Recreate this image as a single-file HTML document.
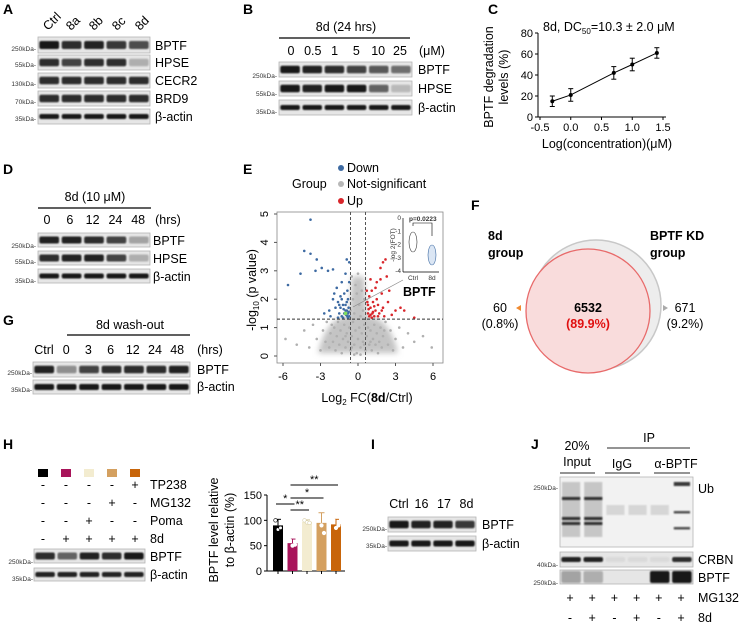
<!DOCTYPE html>
<html><head><meta charset="utf-8">
<style>
html,body{margin:0;padding:0;background:#fff;}
svg{display:block;font-family:"Liberation Sans",Arial,sans-serif;}
.pl{font-weight:bold;font-size:14px;}
.lb{font-size:12.5px;}
.kd{font-size:6.5px;fill:#333;}
.tk{font-size:11px;}
</style></head>
<body>
<svg id="fig" width="743" height="628" viewBox="0 0 743 628" xmlns="http://www.w3.org/2000/svg">
<defs><filter id="bl" x="-20%" y="-60%" width="140%" height="220%"><feGaussianBlur stdDeviation="0.9"/></filter>
<filter id="bl3" x="-20%" y="-20%" width="140%" height="140%"><feGaussianBlur stdDeviation="3"/></filter></defs>
<g id="root"></g>
</svg>
<script>
// ---------- data ----------
const cConc = [-0.3, 0.0, 0.7, 1.0, 1.4];
const cDeg = [15, 21, 42, 50, 61];
const cErr = [5, 6, 6, 6, 5];
const cXTicks = [-0.5, 0.0, 0.5, 1.0, 1.5];
const cYTicks = [0, 20, 40, 60, 80];

const volDown = [[-3.8,4.8],[-4.3,3.7],[-3.8,3.6],[-3.3,3.4],[-5.6,2.5],[-4.6,2.9],[-3.4,3.0],[-2.9,3.1],[-2.4,3.0],[-2.0,3.05],[-0.9,3.4],[-0.7,3.3],[-1.0,2.9],[-1.3,2.6],[-1.7,2.4],[-2.7,1.5],[-2.3,1.6],[-2.2,1.4],[-1.6,1.9],[-1.4,2.1],[-1.2,1.8],[-1.0,1.6],[-0.8,1.5],[-0.9,1.9],[-1.1,2.2],[-1.5,1.5],[-1.3,1.4],[-0.75,1.7],[-0.85,2.3],[-1.8,1.7],[-1.2,1.35],[-0.95,1.45],[-0.7,1.4],[-1.6,1.35],[-2.0,2.0],[-1.4,1.7],[-0.8,2.0],[-1.1,1.5],[-0.7,2.6],[-1.9,2.2],[-0.8,1.35],[-1.0,1.8],[-1.3,2.0],[-0.9,1.6],[-1.5,1.8],[-0.75,1.55],[-1.15,1.65],[-0.85,1.4]];
const volUp = [[1.8,3.1],[2.2,3.4],[2.0,3.3],[1.8,2.7],[1.0,2.7],[1.5,2.6],[2.3,2.8],[0.7,2.3],[1.1,2.3],[1.9,2.2],[2.4,1.9],[3.0,1.6],[3.4,1.7],[3.7,1.6],[4.5,1.35],[2.7,1.45],[0.8,1.5],[1.0,1.7],[1.2,1.9],[1.4,1.6],[1.6,1.8],[0.9,1.4],[1.3,1.4],[1.7,1.5],[0.75,1.9],[1.1,1.35],[1.5,2.0],[1.9,1.6],[2.1,1.4],[0.8,1.8],[1.2,1.55],[2.5,2.3],[1.4,2.4],[0.9,2.1],[1.0,1.45],[1.3,1.75],[1.6,1.4],[0.85,1.65],[1.15,1.5],[2.0,1.7]];
const volNS = [[-5.8,0.6],[-4.9,0.4],[-4.3,0.9],[-3.9,0.3],[-3.6,1.1],[-3.3,0.6],[-3.0,0.2],[-2.8,0.9],[-2.6,0.5],[-2.5,1.2],[-2.3,0.3],[-2.2,0.8],[-2.0,0.5],[-1.9,1.0],[-1.8,0.2],[-1.7,0.7],[-1.6,1.2],[-1.5,0.4],[-1.4,0.9],[-1.3,0.1],[-1.2,0.6],[-1.1,1.1],[-1.0,0.3],[-0.9,0.8],[-0.8,0.5],[-0.7,1.0],[-0.6,0.2],[-0.5,0.7],[-0.4,1.2],[-0.3,0.4],[-0.2,0.9],[-0.1,0.1],[0.0,0.6],[0.1,1.0],[0.2,0.3],[0.3,0.8],[0.4,0.5],[0.5,1.1],[0.6,0.2],[0.7,0.7],[0.8,1.0],[0.9,0.4],[1.0,0.9],[1.1,0.2],[1.2,0.6],[1.3,1.1],[1.4,0.4],[1.5,0.8],[1.6,0.1],[1.7,0.5],[1.8,1.0],[1.9,0.3],[2.0,0.7],[2.2,1.2],[2.4,0.4],[2.6,0.9],[2.8,0.2],[3.0,0.6],[3.3,1.0],[3.6,0.3],[4.0,0.8],[4.5,0.5],[5.2,0.7],[5.9,0.3],[-0.4,2.0],[-0.2,2.5],[0.1,1.8],[0.3,2.3],[-0.3,1.5],[0.4,1.6],[0.0,2.9],[-0.5,2.8],[0.2,1.4],[-0.1,2.2],[-0.6,1.6],[0.5,2.0],[-0.3,0.05],[0.2,0.05],[-2.1,1.1],[2.1,0.9],[-1.0,0.7],[1.0,0.5],[-0.5,0.3],[0.5,0.4]];
const volXTicks = [-6, -3, 0, 3, 6];
const volYTicks = [0, 1, 2, 3, 4, 5];

const hGroups = ['Ctrl','8d','8d+Poma','8d+MG132','8d+TP238'];
const hMeans = [90, 55, 97, 95, 92];
const hErrs = [12, 8, 4, 20, 10];
const hReps = [[100,82,85],[60,50,52],[100,96,95],[105,90,75],[100,85,90]];
const hYTicks = [0, 50, 100, 150];

// ---------- helpers ----------
const NS = 'http://www.w3.org/2000/svg';
const root = document.getElementById('root');
function mk(tag, attrs, parent, text) {
  const e = document.createElementNS(NS, tag);
  for (const k in attrs) e.setAttribute(k, attrs[k]);
  if (text !== undefined) e.textContent = text;
  (parent || root).appendChild(e);
  return e;
}
function grp(name) {
  const g = mk('g', {});
  
  
  return g;
}
function txt(p, x, y, s, cls, extra) {
  const a = Object.assign({x: x, y: y, class: cls || 'lb'}, extra || {});
  const t = mk('text', a, p, s);
  
  
  return t;
}
function blot(p, name, x, y, w, h, ints, bh) {
  const g = mk('g', {}, p);
  
  
  mk('rect', {x: x, y: y, width: w, height: h, fill: '#e6e6e6', stroke: '#b5b5b5', 'stroke-width': 0.8}, g);
  const lw = w / ints.length;
  ints.forEach(function (v, i) {
    const b = mk('rect', {x: x + i * lw + lw * 0.06, y: y + h / 2 - (bh || h * 0.5) / 2, width: lw * 0.88, height: bh || h * 0.5, rx: 2, fill: '#0a0a0a', opacity: v, filter: 'url(#bl)'}, g);
    
    
  });
  return g;
}
function kda(p, x, y, s) { txt(p, x, y, s + '-', 'kd', {'text-anchor': 'end'}); }

// ---------- Panel A ----------
(function () {
  const g = grp('panel-a');
  txt(g, 3, 14, 'A', 'pl');
  ['Ctrl', '8a', '8b', '8c', '8d'].forEach(function (s, i) {
    txt(g, 48 + i * 23, 31, s, 'lb', {transform: 'rotate(-45 ' + (48 + i * 23) + ' 31)'});
  });
  blot(g, 'blot-a-bptf', 38, 37, 112, 16, [0.95, 0.85, 0.9, 0.8, 0.7]);
  blot(g, 'blot-a-hpse', 38, 55, 112, 15, [0.85, 0.75, 0.85, 0.85, 0.25]);
  blot(g, 'blot-a-cecr2', 38, 73, 112, 15, [0.85, 0.85, 0.85, 0.85, 0.85]);
  blot(g, 'blot-a-brd9', 38, 91, 112, 15, [0.85, 0.85, 0.85, 0.85, 0.85]);
  blot(g, 'blot-a-actin', 38, 109, 112, 15, [0.95, 0.95, 0.95, 0.95, 0.95], 5);
  ['BPTF', 'HPSE', 'CECR2', 'BRD9', 'β-actin'].forEach(function (s, i) { txt(g, 155, [50, 67, 85, 103, 121][i], s); });
  kda(g, 36, 51, '250kDa'); kda(g, 36, 67, '55kDa'); kda(g, 36, 86, '130kDa'); kda(g, 36, 104, '70kDa'); kda(g, 36, 121, '35kDa');
})();

// ---------- Panel B ----------
(function () {
  const g = grp('panel-b');
  txt(g, 243, 14, 'B', 'pl');
  txt(g, 346, 31, '8d (24 hrs)', 'lb', {'text-anchor': 'middle'});
  mk('line', {x1: 279, y1: 38, x2: 410, y2: 38, stroke: '#000', 'stroke-width': 1.2}, g);
  ['0', '0.5', '1', '5', '10', '25'].forEach(function (s, i) { txt(g, 291 + i * 21.8, 55, s, 'lb', {'text-anchor': 'middle'}); });
  txt(g, 432, 55, '(μM)', 'lb', {'text-anchor': 'middle'});
  blot(g, 'blot-b-bptf', 279, 62, 133, 15, [0.95, 0.9, 0.85, 0.75, 0.65, 0.55]);
  blot(g, 'blot-b-hpse', 279, 81, 133, 15, [0.95, 0.9, 0.95, 0.95, 0.6, 0.2]);
  blot(g, 'blot-b-actin', 279, 100, 133, 15, [0.95, 0.95, 0.95, 0.95, 0.95, 0.95], 5);
  txt(g, 418, 74, 'BPTF'); txt(g, 418, 93, 'HPSE'); txt(g, 418, 112, 'β-actin');
  kda(g, 277, 78, '250kDa'); kda(g, 277, 96, '55kDa'); kda(g, 277, 114, '35kDa');
})();

// ---------- Panel C ----------
(function () {
  const g = grp('panel-c-chart');
  txt(g, 488, 14, 'C', 'pl');
  const X = function (v) { return 540 + (v + 0.5) * 61.5; };
  const Y = function (v) { return 117 - v * 1.05; };
  mk('line', {x1: 538, y1: Y(0), x2: 666, y2: Y(0), stroke: '#000'}, g);
  mk('line', {x1: 538, y1: Y(0), x2: 538, y2: Y(80), stroke: '#000'}, g);
  cXTicks.forEach(function (t) {
    mk('line', {x1: X(t), y1: Y(0), x2: X(t), y2: Y(0) + 3, stroke: '#000'}, g);
    txt(g, X(t), Y(0) + 14, t.toFixed(1), 'tk', {'text-anchor': 'middle'});
  });
  cYTicks.forEach(function (t) {
    mk('line', {x1: 535, y1: Y(t), x2: 538, y2: Y(t), stroke: '#000'}, g);
    txt(g, 533, Y(t) + 4, String(t), 'tk', {'text-anchor': 'end'});
  });
  let d = '';
  cConc.forEach(function (c, i) { d += (i ? 'L' : 'M') + X(c) + ' ' + Y(cDeg[i]); });
  const line = mk('path', {d: d, fill: 'none', stroke: '#000', 'stroke-width': 1}, g);
  
  cConc.forEach(function (c, i) {
    const e = mk('line', {x1: X(c), y1: Y(cDeg[i] - cErr[i]), x2: X(c), y2: Y(cDeg[i] + cErr[i]), stroke: '#000'}, g);
    
    mk('line', {x1: X(c) - 2.5, y1: Y(cDeg[i] - cErr[i]), x2: X(c) + 2.5, y2: Y(cDeg[i] - cErr[i]), stroke: '#000'}, g);
    mk('line', {x1: X(c) - 2.5, y1: Y(cDeg[i] + cErr[i]), x2: X(c) + 2.5, y2: Y(cDeg[i] + cErr[i]), stroke: '#000'}, g);
    const p = mk('circle', {cx: X(c), cy: Y(cDeg[i]), r: 2, fill: '#000'}, g);
    
  });
  const t = mk('text', {x: 543, y: 31, class: 'lb'}, g);
  
  t.innerHTML = '8d, DC<tspan font-size="8" dy="3">50</tspan><tspan dy="-3">=10.3 ± 2.0 μM</tspan>';
  txt(g, 607, 148, 'Log(concentration)(μM)', 'lb', {'text-anchor': 'middle'});
  txt(g, 0, 0, 'BPTF degradation', 'lb', {'text-anchor': 'middle', transform: 'translate(493 77) rotate(-90)'});
  txt(g, 0, 0, 'levels (%)', 'lb', {'text-anchor': 'middle', transform: 'translate(508 77) rotate(-90)'});
})();

// ---------- Panel D ----------
(function () {
  const g = grp('panel-d');
  txt(g, 3, 174, 'D', 'pl');
  txt(g, 95, 201, '8d (10 μM)', 'lb', {'text-anchor': 'middle'});
  mk('line', {x1: 38, y1: 208, x2: 151, y2: 208, stroke: '#000', 'stroke-width': 1.2}, g);
  ['0', '6', '12', '24', '48'].forEach(function (s, i) { txt(g, 47 + i * 22.8, 224, s, 'lb', {'text-anchor': 'middle'}); });
  txt(g, 168, 224, '(hrs)', 'lb', {'text-anchor': 'middle'});
  blot(g, 'blot-d-bptf', 38, 233, 112, 14, [0.9, 0.9, 0.85, 0.75, 0.3]);
  blot(g, 'blot-d-hpse', 38, 251, 112, 14, [0.85, 0.9, 0.9, 0.75, 0.25]);
  blot(g, 'blot-d-actin', 38, 269, 112, 14, [0.95, 0.95, 0.95, 0.95, 0.95], 5);
  txt(g, 153, 245, 'BPTF'); txt(g, 153, 263, 'HPSE'); txt(g, 153, 281, 'β-actin');
  kda(g, 36, 248, '250kDa'); kda(g, 36, 264, '55kDa'); kda(g, 36, 283, '35kDa');
})();

// ---------- Panel E (volcano) ----------
(function () {
  const g = grp('panel-e-volcano');
  txt(g, 243, 174, 'E', 'pl');
  txt(g, 292, 188, 'Group', 'lb');
  [['Down', '#3d6aa2', 172], ['Not-significant', '#b8b8b8', 188], ['Up', '#d9262b', 205]].forEach(function (l) {
    const c = mk('circle', {cx: 341, cy: l[2] - 4, r: 3, fill: l[1]}, g);
    
    txt(g, 347, l[2], l[0]);
  });
  const X = function (v) { return 358 + v * 12.5; };
  const Y = function (v) { return 356 - v * 28.4; };
  const box = mk('rect', {x: 277, y: 212, width: 166, height: 151, fill: 'none', stroke: '#888', 'stroke-width': 0.8}, g);
  
  volXTicks.forEach(function (t) {
    mk('line', {x1: X(t), y1: 363, x2: X(t), y2: 366, stroke: '#555'}, g);
    txt(g, X(t), 380, String(t), 'tk', {'text-anchor': 'middle'});
  });
  volYTicks.forEach(function (t) {
    mk('line', {x1: 274, y1: Y(t), x2: 277, y2: Y(t), stroke: '#555'}, g);
    txt(g, 0, 0, String(t), 'tk', {'text-anchor': 'middle', transform: 'translate(268 ' + Y(t) + ') rotate(-90)'});
  });
  // density of non-significant proteins
  const dens = mk('path', {d: 'M' + X(-3.2) + ' ' + Y(0.1) + ' Q' + X(-2.5) + ' ' + Y(1.4) + ' ' + X(-0.7) + ' ' + Y(1.4) + ' L' + X(-0.5) + ' ' + Y(2.8) + ' L' + X(0.5) + ' ' + Y(2.8) + ' L' + X(0.7) + ' ' + Y(1.4) + ' Q' + X(2.5) + ' ' + Y(1.4) + ' ' + X(3.2) + ' ' + Y(0.1) + ' Z', fill: '#c4c4c4', filter: 'url(#bl3)'}, g);
  
  volNS.forEach(function (p) { const c = mk('circle', {cx: X(p[0]), cy: Y(p[1]), r: 1.3, fill: '#b0b0b0'}, g);  });
  volDown.forEach(function (p) { const c = mk('circle', {cx: X(p[0]), cy: Y(p[1]), r: 1.3, fill: '#3d6aa2'}, g);  });
  volUp.forEach(function (p) { const c = mk('circle', {cx: X(p[0]), cy: Y(p[1]), r: 1.3, fill: '#d9262b'}, g);  });
  const bp = mk('circle', {cx: X(-1.0), cy: Y(1.5), r: 1.8, fill: '#7ddc5a'}, g); 
  [X(-0.6), X(0.6)].forEach(function (lx) { mk('line', {x1: lx, y1: 212, x2: lx, y2: 363, stroke: '#555', 'stroke-dasharray': '3 2'}, g); });
  mk('line', {x1: 277, y1: Y(1.3), x2: 443, y2: Y(1.3), stroke: '#333', 'stroke-dasharray': '3 2'}, g);
  mk('line', {x1: 353, y1: 307, x2: 403, y2: 280, stroke: '#888', 'stroke-width': 0.7}, g);
  // inset
  mk('rect', {x: 403, y: 218, width: 36, height: 54, fill: '#fff'}, g);
  mk('line', {x1: 403, y1: 218, x2: 403, y2: 272, stroke: '#000', 'stroke-width': 0.7}, g);
  mk('line', {x1: 403, y1: 272, x2: 439, y2: 272, stroke: '#000', 'stroke-width': 0.7}, g);
  [0, -1, -2, -3, -4].forEach(function (t, i) { txt(g, 401, 220 + i * 13.3, String(t), 'kd', {'text-anchor': 'end', 'font-size': '6'}); });
  mk('ellipse', {cx: 413, cy: 242, rx: 4, ry: 10, fill: '#fff', stroke: '#333', 'stroke-width': 0.6}, g);
  mk('ellipse', {cx: 432, cy: 255, rx: 4, ry: 10, fill: '#dbe6f4', stroke: '#3d6aa2', 'stroke-width': 0.6}, g);
  mk('path', {d: 'M413 226 V223 H432 V236', fill: 'none', stroke: '#000', 'stroke-width': 0.6}, g);
  txt(g, 409, 221, 'p=0.0223', 'kd', {'font-weight': 'bold', 'font-size': '6.5'});
  txt(g, 0, 0, '-log 2(FOT)', 'kd', {'text-anchor': 'middle', transform: 'translate(395 245) rotate(-90)', 'font-size': '5.5'});
  txt(g, 413, 280, 'Ctrl', 'kd', {'text-anchor': 'middle', 'font-size': '7'});
  txt(g, 432, 280, '8d', 'kd', {'text-anchor': 'middle', 'font-size': '7'});
  txt(g, 403, 296, 'BPTF', 'lb', {'font-weight': 'bold', 'font-size': '16'});
  const xl = mk('text', {x: 367, y: 402, class: 'lb', 'text-anchor': 'middle'}, g);
  
  xl.innerHTML = 'Log<tspan font-size="8" dy="3">2</tspan><tspan dy="-3"> FC(</tspan><tspan font-weight="bold">8d</tspan>/Ctrl)';
  const yl = mk('text', {x: 0, y: 0, class: 'lb', 'text-anchor': 'middle', transform: 'translate(256 290) rotate(-90)'}, g);
  
  yl.innerHTML = '-log<tspan font-size="8" dy="3">10</tspan><tspan dy="-3"> (p value)</tspan>';
})();

// ---------- Panel F ----------
(function () {
  const g = grp('panel-f-venn');
  txt(g, 471, 210, 'F', 'pl');
  txt(g, 488, 240, '8d', 'lb', {'font-weight': 'bold'}); txt(g, 488, 257, 'group', 'lb', {'font-weight': 'bold'});
  txt(g, 650, 240, 'BPTF KD', 'lb', {'font-weight': 'bold'}); txt(g, 650, 257, 'group', 'lb', {'font-weight': 'bold'});
  const c1 = mk('circle', {cx: 596, cy: 305, r: 65, fill: '#ededed', stroke: '#c8c8c8', 'stroke-width': 1.5}, g);
  
  const c2 = mk('circle', {cx: 588, cy: 311, r: 62, fill: '#f9dcdc', stroke: '#e86a6a', 'stroke-width': 1.3}, g);
  
  txt(g, 588, 312, '6532', 'lb', {'text-anchor': 'middle', 'font-weight': 'bold'});
  txt(g, 588, 328, '(89.9%)', 'lb', {'text-anchor': 'middle', 'font-weight': 'bold', fill: '#e01010'});
  txt(g, 500, 312, '60', 'lb', {'text-anchor': 'middle'}); txt(g, 500, 328, '(0.8%)', 'lb', {'text-anchor': 'middle'});
  mk('path', {d: 'M516 308 L521 305 L521 311 Z', fill: '#f08a30'}, g);
  txt(g, 685, 312, '671', 'lb', {'text-anchor': 'middle'}); txt(g, 685, 328, '(9.2%)', 'lb', {'text-anchor': 'middle'});
  mk('path', {d: 'M668 308 L663 305 L663 311 Z', fill: '#aaa'}, g);
})();

// ---------- Panel G ----------
(function () {
  const g = grp('panel-g');
  txt(g, 3, 325, 'G', 'pl');
  txt(g, 130, 329, '8d wash-out', 'lb', {'text-anchor': 'middle'});
  mk('line', {x1: 67, y1: 335, x2: 190, y2: 335, stroke: '#000', 'stroke-width': 1.2}, g);
  ['Ctrl', '0', '3', '6', '12', '24', '48'].forEach(function (s, i) { txt(g, 44 + i * 22.2, 354, s, 'lb', {'text-anchor': 'middle'}); });
  txt(g, 210, 354, '(hrs)', 'lb', {'text-anchor': 'middle'});
  blot(g, 'blot-g-bptf', 33, 362, 157, 15, [0.9, 0.4, 0.75, 0.85, 0.85, 0.85, 0.9]);
  blot(g, 'blot-g-actin', 33, 380, 157, 14, [0.95, 0.95, 0.95, 0.95, 0.95, 0.95, 0.95], 6);
  txt(g, 197, 374, 'BPTF'); txt(g, 197, 391, 'β-actin');
  kda(g, 32, 375, '250kDa'); kda(g, 32, 392, '35kDa');
})();

// ---------- Panel H ----------
(function () {
  const g = grp('panel-h');
  txt(g, 3, 449, 'H', 'pl');
  const cols = ['#000000', '#a8145a', '#f3ecd0', '#d4a060', '#c8650a'];
  const lx = [43, 66, 89, 112, 135];
  cols.forEach(function (c, i) { const r = mk('rect', {x: lx[i] - 5, y: 469, width: 10, height: 8, fill: c}, g);  });
  const rows = [['TP238', '----+', 489], ['MG132', '---+-', 507], ['Poma', '--+--', 525], ['8d', '-++++', 543]];
  rows.forEach(function (r) {
    r[1].split('').forEach(function (s, i) { txt(g, lx[i], r[2], s, 'lb', {'text-anchor': 'middle'}); });
    txt(g, 150, r[2], r[0]);
  });
  blot(g, 'blot-h-bptf', 34, 549, 111, 14, [0.85, 0.6, 0.9, 0.85, 0.95]);
  blot(g, 'blot-h-actin', 34, 568, 111, 13, [0.9, 0.9, 0.9, 0.9, 0.9], 5);
  txt(g, 150, 561, 'BPTF'); txt(g, 150, 579, 'β-actin');
  kda(g, 33, 564, '250kDa'); kda(g, 33, 581, '35kDa');
  const c = grp('panel-h-bar-chart');
  const X = function (i) { return 278 + i * 14.5; };
  const Y = function (v) { return 571 - v * 76 / 150; };
  mk('line', {x1: 267, y1: Y(0), x2: 345, y2: Y(0), stroke: '#000'}, c);
  mk('line', {x1: 267, y1: Y(0), x2: 267, y2: Y(150), stroke: '#000'}, c);
  hYTicks.forEach(function (t) {
    mk('line', {x1: 264, y1: Y(t), x2: 267, y2: Y(t), stroke: '#000'}, c);
    txt(c, 262, Y(t) + 4, String(t), 'tk', {'text-anchor': 'end'});
  });
  hMeans.forEach(function (m, i) {
    const ec = cols[i] === '#f3ecd0' ? '#d8cfa8' : cols[i];
    const b = mk('rect', {x: X(i) - 5, y: Y(m), width: 10, height: Y(0) - Y(m), fill: cols[i]}, c);
    
    mk('line', {x1: X(i), y1: Y(m), x2: X(i), y2: Y(m + hErrs[i]), stroke: ec}, c);
    mk('line', {x1: X(i) - 3, y1: Y(m + hErrs[i]), x2: X(i) + 3, y2: Y(m + hErrs[i]), stroke: ec}, c);
    mk('line', {x1: X(i), y1: Y(0), x2: X(i), y2: Y(0) + 3, stroke: '#000'}, c);
    hReps[i].forEach(function (v, k) {
      const d = mk('circle', {cx: X(i) - 2.5 + k * 2.5, cy: Y(v), r: 1.8, fill: '#fff', stroke: i === 0 ? '#000' : (i === 2 ? '#d8cfa8' : '#fff'), 'stroke-width': 0.6}, c);
      
    });
  });
  [[0, 1, 504, '*'], [1, 2, 510, '**'], [1, 3, 498, '*'], [1, 4, 485, '**']].forEach(function (s) {
    mk('line', {x1: X(s[0]) - 2, y1: s[2], x2: X(s[1]) + 2, y2: s[2], stroke: '#000'}, c);
    txt(c, (X(s[0]) + X(s[1])) / 2, s[2] - 2, s[3], 'tk', {'text-anchor': 'middle', 'font-size': '9'});
  });
  txt(c, 0, 0, 'BPTF level relative', 'lb', {'text-anchor': 'middle', transform: 'translate(218 530) rotate(-90)'});
  txt(c, 0, 0, 'to β-actin (%)', 'lb', {'text-anchor': 'middle', transform: 'translate(234 530) rotate(-90)'});
})();

// ---------- Panel I ----------
(function () {
  const g = grp('panel-i');
  txt(g, 371, 449, 'I', 'pl');
  ['Ctrl', '16', '17', '8d'].forEach(function (s, i) { txt(g, 399 + i * 22.5, 508, s, 'lb', {'text-anchor': 'middle'}); });
  blot(g, 'blot-i-bptf', 388, 517, 88, 15, [0.95, 0.9, 0.9, 0.8]);
  blot(g, 'blot-i-actin', 388, 536, 88, 15, [0.95, 0.95, 0.95, 0.95], 6);
  txt(g, 482, 529, 'BPTF'); txt(g, 482, 548, 'β-actin');
  kda(g, 387, 531, '250kDa'); kda(g, 387, 548, '35kDa');
})();

// ---------- Panel J ----------
(function () {
  const g = grp('panel-j');
  txt(g, 531, 449, 'J', 'pl');
  txt(g, 577, 450, '20%', 'lb', {'text-anchor': 'middle'});
  txt(g, 577, 466, 'Input', 'lb', {'text-anchor': 'middle'});
  txt(g, 649, 442, 'IP', 'lb', {'text-anchor': 'middle'});
  mk('line', {x1: 607, y1: 448, x2: 690, y2: 448, stroke: '#555', 'stroke-width': 1.2}, g);
  txt(g, 622, 468, 'IgG', 'lb', {'text-anchor': 'middle'});
  txt(g, 676, 468, 'α-BPTF', 'lb', {'text-anchor': 'middle'});
  [[560, 595], [605, 640], [654, 690]].forEach(function (l) { mk('line', {x1: l[0], y1: 473, x2: l[1], y2: 473, stroke: '#555', 'stroke-width': 1.2}, g); });
  const ub = mk('g', {}, g);
  
  
  mk('rect', {x: 560, y: 477, width: 133, height: 70, fill: '#f2f2f2', stroke: '#b5b5b5', 'stroke-width': 0.8}, ub);
  const lw = 133 / 6;
  [0, 1].forEach(function (l) {
    mk('rect', {x: 560 + l * lw + 2, y: 482, width: lw - 4, height: 55, fill: '#777', opacity: 0.35, filter: 'url(#bl)'}, ub);
    [3, 7, 8].forEach(function (k) {
      mk('rect', {x: 560 + l * lw + 2, y: 482 + k * 5, width: lw - 4, height: 3, fill: '#111', opacity: 0.8, filter: 'url(#bl)'}, ub);
    });
  });
  [2, 3, 4].forEach(function (i) { mk('rect', {x: 560 + i * lw + 2, y: 505, width: lw - 4, height: 10, fill: '#999', opacity: 0.3, filter: 'url(#bl)'}, ub); });
  mk('rect', {x: 560 + 5 * lw + 3, y: 482, width: lw - 6, height: 4, fill: '#111', opacity: 0.8, filter: 'url(#bl)'}, ub);
  mk('rect', {x: 560 + 5 * lw + 3, y: 511, width: lw - 6, height: 2.5, fill: '#111', opacity: 0.7, filter: 'url(#bl)'}, ub);
  mk('rect', {x: 560 + 5 * lw + 3, y: 527, width: lw - 6, height: 2.5, fill: '#111', opacity: 0.7, filter: 'url(#bl)'}, ub);
  blot(g, 'blot-j-crbn', 560, 552, 133, 15, [0.9, 0.9, 0.05, 0.05, 0.05, 0.85], 5);
  blot(g, 'blot-j-bptf', 560, 570, 133, 14, [0.3, 0.25, 0.0, 0.0, 0.95, 0.95], 12);
  txt(g, 698, 493, 'Ub'); txt(g, 698, 564, 'CRBN'); txt(g, 698, 582, 'BPTF');
  kda(g, 558, 490, '250kDa'); kda(g, 558, 567, '40kDa'); kda(g, 558, 585, '250kDa');
  '++++++'.split('').forEach(function (s, i) { txt(g, 570 + i * 22.2, 602, s, 'lb', {'text-anchor': 'middle'}); });
  '-+-+-+'.split('').forEach(function (s, i) { txt(g, 570 + i * 22.2, 622, s, 'lb', {'text-anchor': 'middle'}); });
  txt(g, 698, 602, 'MG132'); txt(g, 698, 622, '8d');
})();
</script>
</body></html>
